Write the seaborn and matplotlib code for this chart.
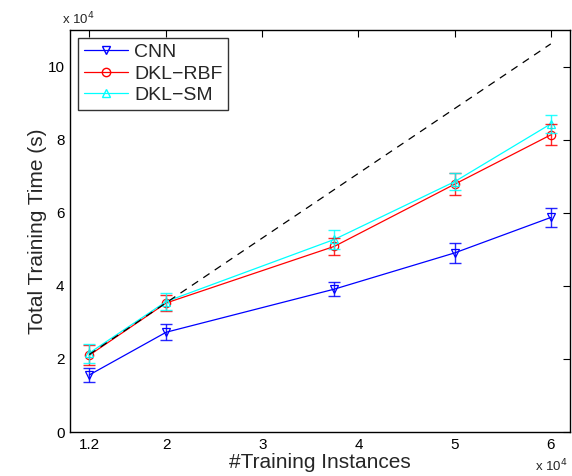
import numpy as np
import pandas as pd
import matplotlib
matplotlib.use('Agg')
import matplotlib.pyplot as plt
import seaborn as sns

# values in units of 1e4
n_train = [1.2, 2.0, 3.75, 5.0, 6.0]
cnn_time = [1.56, 2.73, 3.91, 4.90, 5.87]
cnn_err = [0.18, 0.22, 0.20, 0.28, 0.26]
rbf_time = [2.10, 3.53, 5.08, 6.78, 8.13]
rbf_err = [0.27, 0.22, 0.23, 0.30, 0.29]
sm_time = [2.16, 3.57, 5.27, 6.85, 8.43]
sm_err = [0.26, 0.24, 0.25, 0.24, 0.24]
linear_x = [1.2, 6.0]
linear_y = [2.12, 10.62]

series = ['CNN', 'DKL\u2212RBF', 'DKL\u2212SM']
colors = ['#0000ff', '#ff0000', '#00ffff']
markers = ['v', 'o', '^']

rows = []
for name, t, e in zip(series, [cnn_time, rbf_time, sm_time], [cnn_err, rbf_err, sm_err]):
    for x, y, err in zip(n_train, t, e):
        rows.append({'n': x, 'time': y, 'err': err, 'model': name})
df = pd.DataFrame(rows)

sns.set_style('white')
plt.rcParams['font.family'] = ['Liberation Sans', 'DejaVu Sans']
plt.rcParams['xtick.direction'] = 'in'
plt.rcParams['ytick.direction'] = 'in'

fig = plt.figure(figsize=(5.72, 4.76), dpi=100)
ax = fig.add_axes([70 / 572, 44 / 476, 500 / 572, 402 / 476])

sns.lineplot(data=df, x='n', y='time', hue='model', style='model',
             palette=dict(zip(series, colors)), markers=dict(zip(series, markers)),
             dashes=False, markersize=6, linewidth=0.9, ax=ax, legend=False)
for line, c in zip(ax.lines[:3], colors):
    line.set_markerfacecolor('none')
    line.set_markeredgecolor(c)
    line.set_markeredgewidth(0.9)

for name, c in zip(series, colors):
    sub = df[df['model'] == name]
    ax.errorbar(sub['n'], sub['time'], yerr=sub['err'], fmt='none',
                ecolor=c, elinewidth=1, capsize=4, capthick=1, alpha=0.85)

ax.plot(linear_x, linear_y, color='black', linestyle='--', linewidth=0.9,
        dashes=(6, 5))

handles = [plt.Line2D([], [], color=c, marker=m, markerfacecolor='none',
                      markeredgecolor=c, markersize=6, linewidth=0.9)
           for c, m in zip(colors, markers)]
leg = ax.legend(handles, series, loc='upper left', fontsize=14,
                frameon=True, fancybox=False, edgecolor='black',
                handlelength=2.3, handletextpad=0.3, labelspacing=0.2,
                borderpad=0.3, borderaxespad=0.4)
leg.get_frame().set_linewidth(1)

ax.set_xlim(1.0, 6.2)
ax.set_ylim(0, 11)
ax.set_xticks([1.2, 2, 3, 4, 5, 6])
ax.set_xticklabels(['1.2', '2', '3', '4', '5', '6'])
ax.set_yticks([0, 2, 4, 6, 8, 10])
ax.tick_params(labelsize=11, length=5, width=0.8, top=True, right=True,
               colors='black', pad=4)
for s in ax.spines.values():
    s.set_color('black')
    s.set_linewidth(1)

ax.set_xlabel('#Training Instances', fontsize=15, labelpad=1)
ax.set_ylabel('Total Training Time (s)', fontsize=15, labelpad=0)
fig.text(62 / 572, 1 - 19 / 476, r'x 10$^{4}$', fontsize=9.5, ha='left',
         va='center')
fig.text(535 / 572, 1 - 466 / 476, r'x 10$^{4}$', fontsize=9.5, ha='left',
         va='center')

fig.savefig('out.png', dpi=100)
